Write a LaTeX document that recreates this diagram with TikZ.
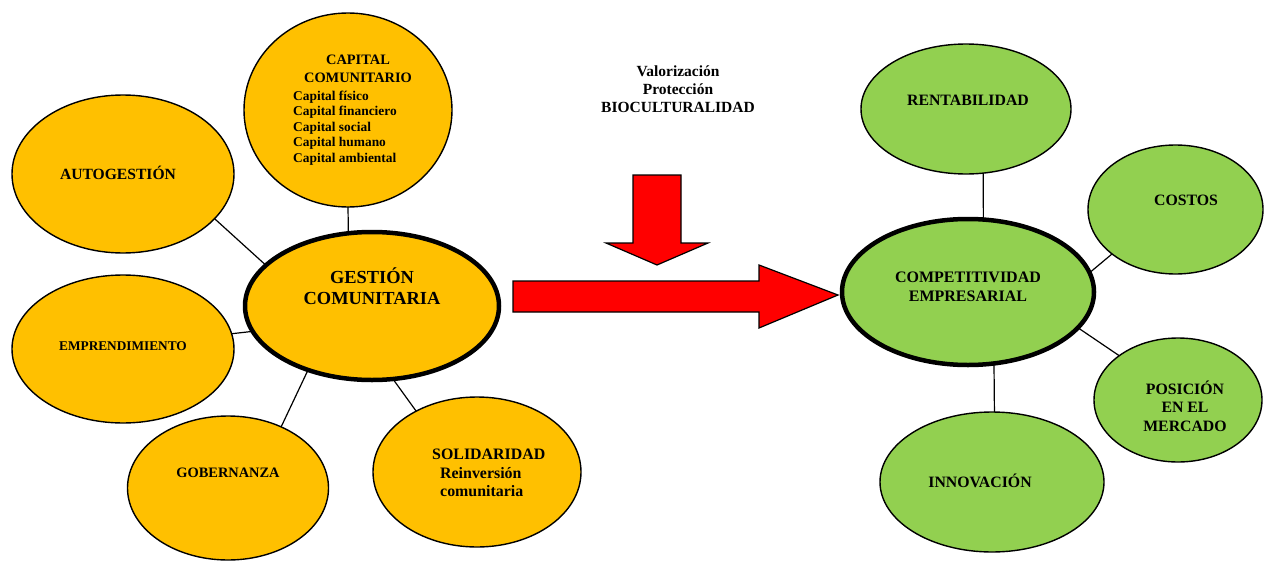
\documentclass[tikz,border=0pt]{standalone}
\usepackage{fontspec}
\setmainfont{Liberation Serif}
\usetikzlibrary{shapes.geometric}
\definecolor{orng}{HTML}{FFC000}
\definecolor{grn}{HTML}{92D050}
\definecolor{rd}{HTML}{FF0000}
\tikzset{
  ell/.style={ellipse,draw=black,line width=1.4pt,inner sep=0pt,outer sep=0pt},
  orel/.style={ell,fill=orng},
  grel/.style={ell,fill=grn},
  hub/.style={line width=4.5pt},
  conn/.style={draw=black,line width=1.2pt},
  txt/.style={inner sep=0pt,font=\bfseries,align=center},
  bigarrow/.style={draw=black,line width=1.2pt,fill=rd,line join=miter}
}
\begin{document}
\begin{tikzpicture}[x=1pt,y=-1pt]
\useasboundingbox (0,0) rectangle (1264,562);
% left cluster
\node[orel,minimum width=222pt,minimum height=158pt] (auto) at (123,174) {};
\node[orel,minimum width=208pt,minimum height=194pt] (cap) at (348,110) {};
\node[orel,minimum width=222pt,minimum height=148pt] (empr) at (123,349) {};
\node[orel,minimum width=201pt,minimum height=144pt] (gob) at (228,488) {};
\node[orel,minimum width=208pt,minimum height=150pt] (sol) at (477,472) {};
\node[orel,hub,minimum width=254pt,minimum height=148pt] (gest) at (372,306) {};
% right cluster
\node[grel,minimum width=210pt,minimum height=130pt] (rent) at (966,109) {};
\node[grel,minimum width=175pt,minimum height=129pt] (cost) at (1175.5,209.5) {};
\node[grel,minimum width=168pt,minimum height=124pt] (pos) at (1178,400) {};
\node[grel,minimum width=224pt,minimum height=140pt] (inno) at (992,482) {};
\node[grel,hub,minimum width=252pt,minimum height=146pt] (comp) at (968,292) {};
% connectors
\draw[conn] (auto.-26.6) -- (gest.159.6);
\draw[conn] (cap.270) -- (gest.108.7);
\draw[conn] (empr.8.3) -- (gest.192.5);
\draw[conn] (gob.49.4) -- (gest.225.8);
\draw[conn] (sol.135.5) -- (gest.-74.9);
\draw[conn] (rent.-75.3) -- (comp.78.7);
\draw[conn] (cost.215.3) -- (comp.9.2);
\draw[conn] (pos.143.9) -- (comp.-18.7);
\draw[conn] (inno.88.4) -- (comp.-70.9);
% big arrows
\draw[bigarrow] (513,281) -- (759,281) -- (759,265) -- (838,295) -- (759,328) -- (759,312) -- (513,312) -- cycle;
\draw[bigarrow] (633,175) -- (681,175) -- (681,243) -- (708,243) -- (657,265) -- (606,243) -- (633,243) -- cycle;
% texts
\node[txt,font=\bfseries\fontsize{15.6}{18}\selectfont] (tauto) at (118,173) {AUTOGESTIÓN};
\node[txt,font=\bfseries\fontsize{14.4}{17.5}\selectfont] (tcap1) at (358,69) {CAPITAL\\COMUNITARIO};
\node[txt,align=left,anchor=north west,font=\bfseries\fontsize{13.4}{15.6}\selectfont] (tcap2) at (293,90.5) {Capital físico\\Capital financiero\\Capital social\\Capital humano\\Capital ambiental};
\node[txt,font=\bfseries\fontsize{18.4}{21.5}\selectfont] (tgest) at (372,286) {GESTIÓN\\COMUNITARIA};
\node[txt,font=\bfseries\fontsize{13.3}{16}\selectfont] (tempr) at (123,346) {EMPRENDIMIENTO};
\node[txt,font=\bfseries\fontsize{14.4}{17}\selectfont] (tgob) at (228,473) {GOBERNANZA};
\node[txt,anchor=north west,font=\bfseries\fontsize{15.9}{19}\selectfont] (tsol1) at (432,449) {SOLIDARIDAD};
\node[txt,align=left,anchor=north west,font=\bfseries\fontsize{15.9}{18.5}\selectfont] (tsol2) at (440,467) {Reinversión\\comunitaria};
\node[txt,font=\bfseries\fontsize{15.5}{18.3}\selectfont] (tval) at (678,89) {Valorización\\Protección\\BIOCULTURALIDAD};
\node[txt,font=\bfseries\fontsize{15.8}{18}\selectfont] (trent) at (968,100) {RENTABILIDAD};
\node[txt,font=\bfseries\fontsize{15.8}{18}\selectfont] (tcost) at (1186,200) {COSTOS};
\node[txt,font=\bfseries\fontsize{16}{18.5}\selectfont] (tcomp) at (968,287) {COMPETITIVIDAD\\EMPRESARIAL};
\node[txt,font=\bfseries\fontsize{15.8}{18.5}\selectfont] (tpos) at (1185,406) {POSICIÓN\\EN EL\\MERCADO};
\node[txt,font=\bfseries\fontsize{15.8}{18}\selectfont] (tinno) at (980,481) {INNOVACIÓN};
\end{tikzpicture}
\end{document}
